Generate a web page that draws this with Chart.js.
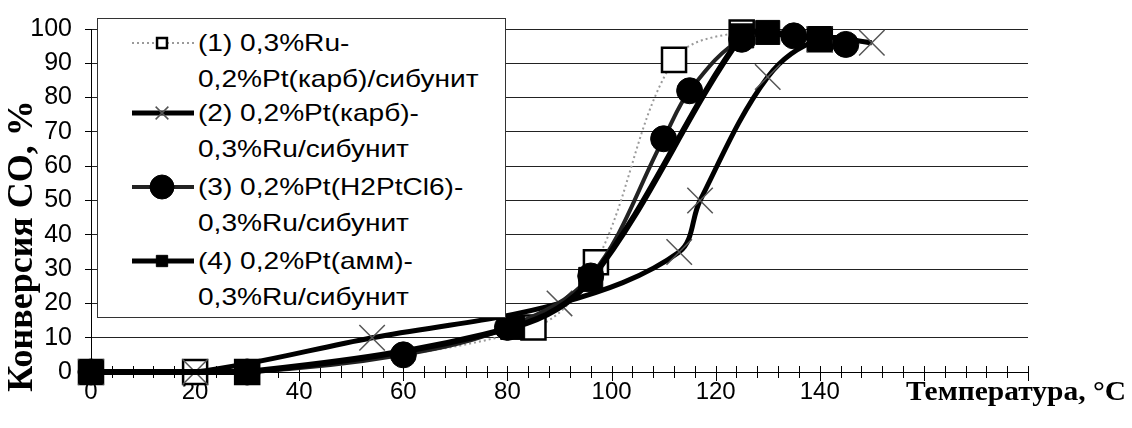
<!DOCTYPE html>
<html>
<head>
<meta charset="utf-8">
<script src="https://cdn.jsdelivr.net/npm/chart.js@4.4.0/dist/chart.umd.min.js"></script>
<style>
  body { margin: 0; background: #fff; }
  #wrap { position: relative; width: 1132px; height: 428px; }
  #legend {
    position: absolute; left: 97px; top: 18px; width: 409px; height: 300px;
    box-sizing: border-box; border: 1px solid #333; background: #fff;
    font: 24px 'Liberation Sans', Arial, sans-serif; color: #000;
  }
  .item { position: absolute; left: 0; width: 100%; }
  .item canvas { position: absolute; left: 2px; top: 0; }
  .item div {
    position: absolute; left: 100px; top: 0; line-height: 36px; white-space: nowrap;
    transform: scaleX(1.17); transform-origin: 0 0;
  }
</style>
</head>
<body>
<div id="wrap">
  <canvas id="chart" width="1132" height="428"></canvas>
  <div id="legend"></div>
</div>
<script>
// подписи серий (две строки каждая)
const seriesNames = [
  ['(1) 0,3%Ru-', '0,2%Pt(карб)/сибунит'],
  ['(2) 0,2%Pt(карб)-', '0,3%Ru/сибунит'],
  ['(3) 0,2%Pt(H2PtCl6)-', '0,3%Ru/сибунит'],
  ['(4) 0,2%Pt(амм)-', '0,3%Ru/сибунит']
];

// температура, °C и конверсия CO, %
const temp1 = [0, 20, 30, 85, 97, 112, 125, 140];
const conv1 = [0, 0, 0, 13, 32, 91, 99, 97];

const temp2 = [0, 20, 54, 90, 113, 117, 130, 140, 150];
const conv2 = [0, 0, 10, 20, 35, 50, 86, 97, 96];

const temp3 = [0, 30, 60, 80, 96, 110, 115, 125, 135, 145];
const conv3 = [0, 0, 5, 13, 28, 68, 82, 97, 98, 95.5];

const temp4 = [0, 30, 81, 96, 125, 130, 140];
const conv4 = [0, 0, 13, 27, 98, 99, 97];

const xTickLabels = [0, 20, 40, 60, 80, 100, 120, 140];
const yTicks = [0, 10, 20, 30, 40, 50, 60, 70, 80, 90, 100];

const xTitle = 'Температура, °С';
const yTitle = 'Конверсия CO, %';

function pts(xs, ys) {
  return xs.map((x, i) => ({ x: x, y: ys[i] }));
}

const styles = [
  { borderColor: '#9a9a9a', borderWidth: 2, borderDash: [2, 3], pointStyle: 'rect', pointRadius: 17,
    pointBackgroundColor: '#fff', pointBorderColor: '#000', pointBorderWidth: 2.5, order: 3 },
  { borderColor: '#000', borderWidth: 5, pointStyle: 'crossRot', pointRadius: 18,
    pointBackgroundColor: '#fff', pointBorderColor: '#555', pointBorderWidth: 1.5, order: 2 },
  { borderColor: '#222', borderWidth: 4, pointStyle: 'circle', pointRadius: 13,
    pointBackgroundColor: '#000', pointBorderColor: '#000', pointBorderWidth: 1, order: 1 },
  { borderColor: '#000', borderWidth: 6, pointStyle: 'rect', pointRadius: 17,
    pointBackgroundColor: '#000', pointBorderColor: '#000', pointBorderWidth: 1, order: 0 }
];

const allData = [pts(temp1, conv1), pts(temp2, conv2), pts(temp3, conv3), pts(temp4, conv4)];

const datasets = allData.map((d, i) => Object.assign({
  label: seriesNames[i].join(' '),
  data: d,
  tension: 0.35,
  clip: false,
  fill: false
}, styles[i]));

// засечки по оси X (через 4 °C), подписи осей
const axisExtras = {
  id: 'axisExtras',
  beforeDatasetsDraw(chart) {
    const { ctx, scales: { x, y } } = chart;
    const y0 = y.getPixelForValue(0);
    ctx.save();
    ctx.strokeStyle = '#000';
    ctx.lineWidth = 1;
    for (let v = 0; v <= x.max; v += 4) {
      const px = Math.round(x.getPixelForValue(v)) + 0.5;
      ctx.beginPath();
      ctx.moveTo(px, y0 - 6);
      ctx.lineTo(px, y0 + (v % 20 === 0 ? 9 : 6));
      ctx.stroke();
    }
    ctx.restore();
  },
  afterDraw(chart) {
    const ctx = chart.ctx;
    ctx.save();
    ctx.fillStyle = '#000';
    ctx.textBaseline = 'middle';
    // подпись оси X (в исходнике растянута по горизонтали)
    ctx.font = "bold 27px 'Liberation Serif', 'Times New Roman', serif";
    ctx.textAlign = 'left';
    const w = ctx.measureText(xTitle).width;
    ctx.save();
    ctx.translate(906, 393);
    ctx.scale(220 / w, 1);
    ctx.fillText(xTitle, 0, 0);
    ctx.restore();
    // подпись оси Y
    ctx.font = "bold 36px 'Liberation Serif', 'Times New Roman', serif";
    ctx.translate(23, 246);
    ctx.rotate(-Math.PI / 2);
    ctx.textAlign = 'center';
    ctx.fillText(yTitle, 0, 0);
    ctx.restore();
  }
};

new Chart(document.getElementById('chart'), {
  type: 'line',
  data: { datasets: datasets },
  options: {
    responsive: false,
    animation: false,
    layout: { padding: { left: 0, top: 29, right: 104, bottom: 0 } },
    plugins: { legend: { display: false }, tooltip: { enabled: false } },
    scales: {
      x: {
        type: 'linear', min: 0, max: 180,
        afterFit: s => { s.height = 56; },
        border: { display: true, color: '#000', width: 1 },
        grid: { display: true, drawOnChartArea: false, drawTicks: false },
        ticks: {
          stepSize: 20, autoSkip: false, maxRotation: 0, padding: 6,
          color: '#000', font: { family: "'Liberation Sans', Arial", size: 24 },
          callback: v => xTickLabels.includes(v) ? String(v) : ''
        }
      },
      y: {
        min: 0, max: 100,
        afterFit: s => { s.width = 91; },
        afterBuildTicks: s => { s.ticks = yTicks.map(v => ({ value: v })); },
        border: { display: true, color: '#000', width: 1 },
        grid: { color: '#222', lineWidth: 1, tickLength: 6, tickColor: '#000' },
        ticks: {
          padding: 13, color: '#000',
          font: { family: "'Liberation Sans', Arial", size: 25 }
        }
      }
    }
  },
  plugins: [axisExtras]
});

// легенда поверх графика, как в исходнике
const legendTops = [6, 76, 150, 224];
const legend = document.getElementById('legend');
const drawPoint = (Chart.helpers && Chart.helpers.drawPoint) ? Chart.helpers.drawPoint : null;
const legendMarkers = [7, 9, 12, 8];

seriesNames.forEach((name, i) => {
  const item = document.createElement('div');
  item.className = 'item';
  item.style.top = legendTops[i] + 'px';
  const c = document.createElement('canvas');
  c.width = 96; c.height = 36;
  item.appendChild(c);
  const t = document.createElement('div');
  t.innerHTML = name[0] + '<br>' + name[1];
  item.appendChild(t);
  legend.appendChild(item);

  const st = styles[i];
  const g = c.getContext('2d');
  g.strokeStyle = st.borderColor;
  g.lineWidth = Math.min(st.borderWidth, 5);
  g.setLineDash(st.borderDash || []);
  g.beginPath();
  g.moveTo(32, 18); g.lineTo(94, 18);
  g.stroke();
  g.setLineDash([]);
  if (drawPoint) {
    g.fillStyle = st.pointBackgroundColor;
    g.strokeStyle = st.pointBorderColor;
    g.lineWidth = st.pointBorderWidth;
    drawPoint(g, { pointStyle: st.pointStyle, radius: legendMarkers[i], rotation: 0, borderWidth: st.pointBorderWidth }, 62, 18);
  }
});
</script>
</body>
</html>
